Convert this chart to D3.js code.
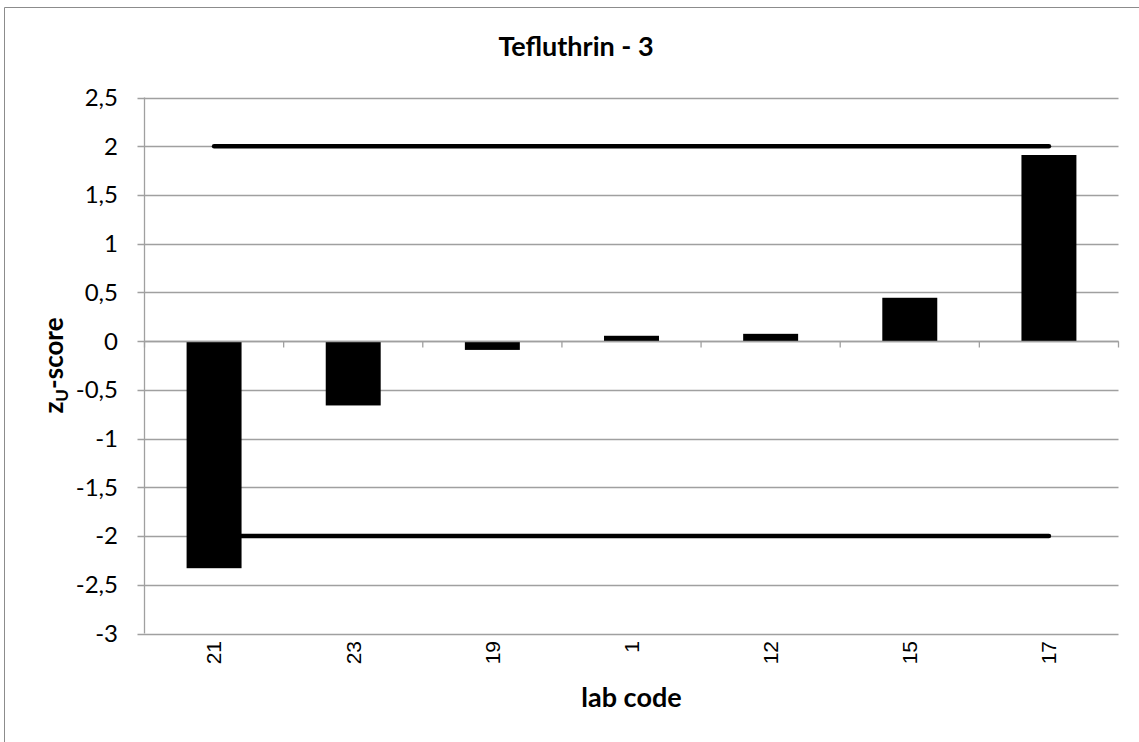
<!DOCTYPE html>
<html><head><meta charset="utf-8">
<script src="https://cdn.jsdelivr.net/npm/d3@7"></script>
<style>body{margin:0;background:#fff}svg{display:block}</style>
</head><body>
<script>
const labCodes = ["21","23","19","1","12","15","17"];
const zScores = [-2.33,-0.66,-0.09,0.055,0.075,0.445,1.91];
const limitValues = [2,-2];
const yTicks = [2.5,2,1.5,1,0.5,0,-0.5,-1,-1.5,-2,-2.5,-3];
const title = "Tefluthrin - 3";

const W=1139,H=742;
const svg=d3.select("body").append("svg").attr("width",W).attr("height",H);
svg.append("rect").attr("width",W).attr("height",H).attr("fill","#fff");
svg.append("path").attr("d","M4.5,742V7.5H1139").attr("fill","none").attr("stroke","#8c8c8c").attr("stroke-width",1);

const L=144.5,R=1118.5,T=97.5,B=633.5;
const x=d3.scaleBand().domain(labCodes).range([L,R]).paddingInner(0).paddingOuter(0);
const y=d3.scaleLinear().domain([-3,2.5]).range([B,T]);

const grid="#a0a0a0";
svg.append("g").selectAll("line").data(yTicks).join("line")
  .attr("x1",L-7).attr("x2",R).attr("y1",d=>Math.round(y(d))+0.5).attr("y2",d=>Math.round(y(d))+0.5)
  .attr("stroke",grid).attr("stroke-width",1.3);
svg.append("line").attr("x1",L).attr("x2",L).attr("y1",T).attr("y2",B).attr("stroke",grid).attr("stroke-width",1.3);
svg.append("g").selectAll("text").data(yTicks).join("text")
  .attr("x",118).attr("y",d=>y(d)).attr("dy","0.35em").attr("text-anchor","end")
  .attr("font-family","Lato, 'Open Sans', sans-serif").attr("font-size",24).attr("fill","#000")
  .text(d=>String(d).replace(".",","));

const bw=x.bandwidth()*0.395;
svg.append("g").selectAll("rect").data(labCodes.map((c,i)=>({c,v:zScores[i]}))).join("rect")
  .attr("x",d=>x(d.c)+x.bandwidth()/2-bw/2).attr("width",bw)
  .attr("y",d=>y(Math.max(0,d.v))).attr("height",d=>Math.abs(y(d.v)-y(0)))
  .attr("fill","#000");

const y0=Math.round(y(0))+0.5;
svg.append("line").attr("x1",L).attr("x2",R).attr("y1",y0).attr("y2",y0).attr("stroke",grid).attr("stroke-width",1.3);
const bounds=labCodes.map(c=>x(c)).concat([R]);
svg.append("g").selectAll("line").data(bounds).join("line")
  .attr("x1",d=>d).attr("x2",d=>d).attr("y1",y0).attr("y2",y0+6).attr("stroke",grid).attr("stroke-width",1.3);

const cx=c=>x(c)+x.bandwidth()/2;
svg.append("g").selectAll("line").data(limitValues).join("line")
  .attr("x1",cx(labCodes[0])).attr("x2",cx(labCodes[labCodes.length-1]))
  .attr("y1",d=>y(d)).attr("y2",d=>y(d))
  .attr("stroke","#000").attr("stroke-width",4.5).attr("stroke-linecap","round");

svg.append("g").selectAll("text").data(labCodes).join("text")
  .attr("transform",c=>`translate(${cx(c)},641) rotate(-90)`)
  .attr("text-anchor","end").attr("dy","0.35em")
  .attr("font-family","'Liberation Sans', Arial, sans-serif").attr("font-size",21).attr("fill","#000")
  .text(c=>c);

svg.append("text").attr("x",576).attr("y",56).attr("text-anchor","middle")
  .attr("font-family","Lato, 'Open Sans', sans-serif").attr("font-weight","bold").attr("font-size",27)
  .text(title);
svg.append("text").attr("x",(L+R)/2).attr("y",707).attr("text-anchor","middle")
  .attr("font-family","Lato, 'Open Sans', sans-serif").attr("font-weight","bold").attr("font-size",27)
  .text("lab code");
const yt=svg.append("text").attr("transform",`translate(63,${(T+B)/2}) rotate(-90)`).attr("text-anchor","middle")
  .attr("font-family","Lato, 'Open Sans', sans-serif").attr("font-weight","bold").attr("font-size",26);
yt.append("tspan").text("z");
yt.append("tspan").attr("font-size",17).attr("dy",5).text("U");
yt.append("tspan").attr("dy",-5).text("-score");
</script>
</body></html>
